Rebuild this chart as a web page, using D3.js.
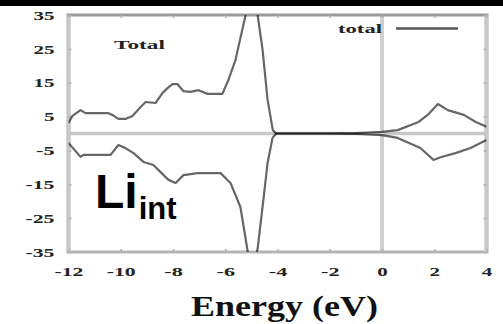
<!DOCTYPE html>
<html><head><meta charset="utf-8">
<script src="https://cdn.jsdelivr.net/npm/d3@7"></script>
<style>html,body{margin:0;padding:0;background:#fff;}svg{display:block;}</style>
</head><body>
<svg id="c" width="503" height="324"></svg>
<script>
const energyUp = [-12,-11.85,-11.54,-11.35,-10.9,-10.47,-10.32,-10.09,-9.82,-9.55,-9.24,-9.05,-8.67,-8.40,-8.21,-8.02,-7.83,-7.6,-7.33,-7.02,-6.68,-6.11,-5.88,-5.61,-5.22,-5.0,-4.76,-4.57,-4.38,-4.18,-4.05,-3,-2,-1,-0.5,0,0.6,1.4,1.75,2.14,2.52,3.13,3.59,4];
const dosUp = [3.1,5.2,6.9,6.0,6.0,6.0,5.5,4.3,4.3,5.2,7.8,9.3,9.0,12,13.4,14.6,14.6,12.5,12.3,12.8,11.7,11.7,15.8,21.7,35,42,35,24.6,10,1,0,0,0,0.1,0.3,0.5,1.0,3.4,5.5,8.7,6.9,5.5,3.4,2.0];
const energyDown = [-12,-11.54,-11.43,-10.39,-10.09,-9.82,-9.51,-9.13,-8.75,-8.36,-8.17,-7.9,-7.6,-7.06,-6.18,-5.8,-5.42,-5.15,-5.0,-4.76,-4.54,-4.38,-4.19,-4.05,-3,-2,-1,-0.5,0,0.6,1.47,1.97,2.24,2.81,3.39,4];
const dosDown = [-2.8,-6.9,-6.3,-6.3,-3.4,-4.3,-5.8,-8.4,-9.3,-12.3,-13.7,-14.6,-12.3,-11.7,-11.7,-14.6,-21.7,-34.4,-42,-34,-19.6,-8.7,-1.3,0,0,0,-0.1,-0.3,-0.5,-1.3,-4.3,-7.8,-7.0,-5.8,-4.3,-1.9];
const xTicks = [-12,-10,-8,-6,-4,-2,0,2,4];
const yTicks = [35,25,15,5,-5,-15,-25,-35];
const xTitle = "Energy (eV)";
const panelLabel = "Total";
const legendLabel = "total";

const svg = d3.select("#c");
svg.append("rect").attr("width",503).attr("height",324).attr("fill","#fff");
svg.append("rect").attr("width",503).attr("height",6).attr("fill","#000");

const L = 68.5, R = 486.5, T = 15, B = 252;
const x = d3.scaleLinear().domain([-12,4]).range([L,R]);
const y = d3.scaleLinear().domain([-35,35]).range([B,T]);

svg.append("defs").append("clipPath").attr("id","clip")
  .append("rect").attr("x",L).attr("y",T).attr("width",R-L).attr("height",B-T);

// zero lines
svg.append("line").attr("x1",L).attr("x2",R).attr("y1",y(0)).attr("y2",y(0))
  .attr("stroke","#c8c8c8").attr("stroke-width",3.5);
svg.append("line").attr("x1",x(0)).attr("x2",x(0)).attr("y1",T).attr("y2",B)
  .attr("stroke","#d0d0d0").attr("stroke-width",4);

// frame
svg.append("line").attr("x1",L-2).attr("x2",R+2).attr("y1",T).attr("y2",T).attr("stroke","#9a9a9a").attr("stroke-width",3);
svg.append("line").attr("x1",L-2).attr("x2",R+2).attr("y1",B).attr("y2",B).attr("stroke","#b4b4b4").attr("stroke-width",3);
svg.append("line").attr("x1",L).attr("x2",L).attr("y1",T).attr("y2",B).attr("stroke","#c8c8c8").attr("stroke-width",4.5);
svg.append("line").attr("x1",R).attr("x2",R).attr("y1",T).attr("y2",B).attr("stroke","#c8c8c8").attr("stroke-width",4.5);

// axes
const fontSerif = "'Liberation Serif','Times New Roman',serif";
function charLen(s){ let w=0; for(const ch of s){ w += (ch==='-')?8:10.5; } return w; }

const gx = svg.append("g").attr("transform",`translate(0,${B})`)
  .call(d3.axisBottom(x).tickValues(xTicks).tickFormat(d=>String(d)).tickSizeInner(-3).tickSizeOuter(0).tickPadding(15));
const gy = svg.append("g").attr("transform",`translate(${L},0)`)
  .call(d3.axisLeft(y).tickValues(yTicks).tickFormat(d=>String(d)).tickSizeInner(-3).tickSizeOuter(0).tickPadding(14));
const gx2 = svg.append("g").attr("transform",`translate(0,${T})`)
  .call(d3.axisTop(x).tickValues(xTicks).tickFormat("").tickSizeInner(-3).tickSizeOuter(0));
const gy2 = svg.append("g").attr("transform",`translate(${R},0)`)
  .call(d3.axisRight(y).tickValues(yTicks).tickFormat("").tickSizeInner(-3).tickSizeOuter(0));
[gx,gy,gx2,gy2].forEach(g=>{
  g.select(".domain").remove();
  g.selectAll(".tick line").attr("stroke","#b0b0b0").attr("stroke-width",1.5);
  g.selectAll(".tick text").attr("fill","#222").attr("font-family",fontSerif)
   .attr("font-weight","bold").attr("font-size",13)
   .each(function(){ const t=d3.select(this); const s=t.text(); if(s){ t.attr("textLength",charLen(s)).attr("lengthAdjust","spacingAndGlyphs"); } });
});

// curves
const line = d3.line().x(d=>x(d[0])).y(d=>y(d[1]));
const plot = svg.append("g").attr("clip-path","url(#clip)");
plot.append("path").datum(energyUp.map((e,i)=>[e,dosUp[i]])).attr("d",line)
  .attr("fill","none").attr("stroke","#000").attr("stroke-opacity",0.6).attr("stroke-width",2.2).attr("stroke-linejoin","round");
plot.append("path").datum(energyDown.map((e,i)=>[e,dosDown[i]])).attr("d",line)
  .attr("fill","none").attr("stroke","#000").attr("stroke-opacity",0.6).attr("stroke-width",2.2).attr("stroke-linejoin","round");

// labels
svg.append("text").attr("x",114).attr("y",49).attr("font-family",fontSerif).attr("font-weight","bold")
  .attr("font-size",13).attr("fill","#222").attr("textLength",51).attr("lengthAdjust","spacingAndGlyphs").text(panelLabel);
svg.append("text").attr("x",338).attr("y",33).attr("font-family",fontSerif).attr("font-weight","bold")
  .attr("font-size",12).attr("fill","#222").attr("textLength",44).attr("lengthAdjust","spacingAndGlyphs").text(legendLabel);
svg.append("line").attr("x1",396).attr("x2",458).attr("y1",28.5).attr("y2",28.5).attr("stroke","#555").attr("stroke-width",2.5);

svg.append("text").attr("x",191).attr("y",316).attr("font-family",fontSerif).attr("font-weight","bold")
  .attr("font-size",30).attr("fill","#111").attr("textLength",187).attr("lengthAdjust","spacingAndGlyphs").text(xTitle);

const li = svg.append("text").attr("x",95).attr("y",208).attr("font-family","'Liberation Sans',Arial,sans-serif")
  .attr("font-weight","bold").attr("fill","#000");
li.append("tspan").attr("font-size",48).text("Li");
li.append("tspan").attr("font-size",31).attr("dy",11).attr("dx",1).text("int");
</script>
</body></html>
